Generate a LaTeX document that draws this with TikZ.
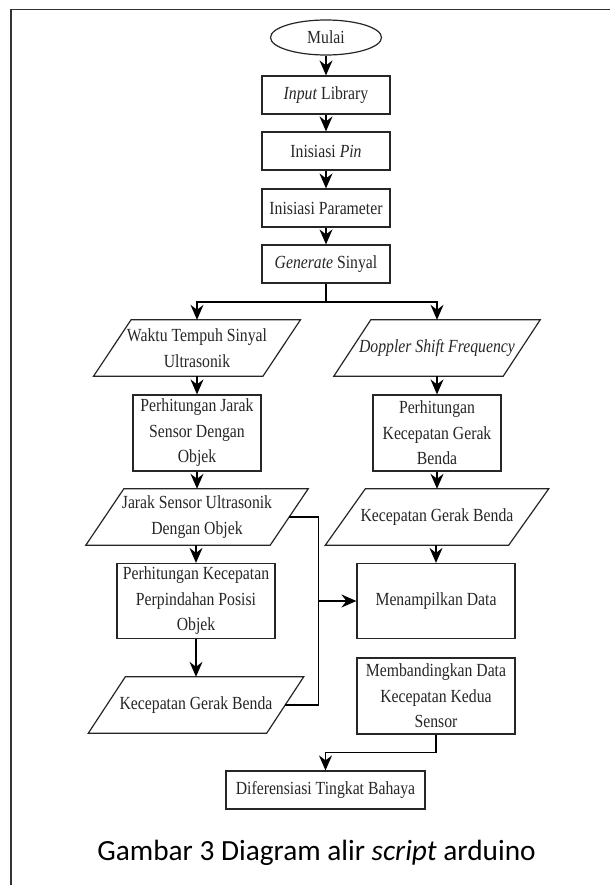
\documentclass[tikz,border=0pt]{standalone}
\usepackage{fontspec}
\setmainfont{Liberation Serif}[FakeStretch=0.85]
\newfontfamily\capfont{Carlito}
\usetikzlibrary{arrows.meta,shapes.geometric,calc}
\newcommand\drawpara[2]{\draw[shapeline] ([xshift=#2]#1.north west) -- ([xshift=#2]#1.north east) -- ([xshift=-#2]#1.south east) -- ([xshift=-#2]#1.south west) -- cycle;}
\tikzset{
  shapeline/.style={line width=1.2pt, draw=black!85},
  diag/.style={font=\fontsize{18.5}{25.5}\selectfont, text=black!85, align=center, inner sep=0pt},
  box/.style={diag, rectangle, shapeline, minimum width=128pt, minimum height=38pt},
  para/.style={diag, rectangle, minimum height=56pt},
  term/.style={diag, ellipse, shapeline, minimum width=111pt, minimum height=35pt},
  conn/.style={line width=1.4pt, draw=black},
  arrow/.style={conn, -{Stealth[length=15pt,width=13pt,inset=5pt]}},
}
\begin{document}
\begin{tikzpicture}[x=1pt,y=-1pt]
\useasboundingbox (0,0) rectangle (610,885);
% frame
\draw[line width=1.5pt, black!80] (11,885) -- (11,9.5) -- (610,9.5);

% main column
\node[term] (mulai) at (326,37.5) {Mulai};
\node[box] (inlib) at (326,95) {\textit{Input} Library};
\node[box] (pin) at (326,151) {Inisiasi \textit{Pin}};
\node[box] (param) at (326,208) {Inisiasi Parameter};
\node[box] (gen) at (326,264) {\textit{Generate} Sinyal};
\coordinate (br) at (326,302);

% left column
\node[para, minimum width=169pt] (waktu) at (197,348) {Waktu Tempuh Sinyal\\Ultrasonik};
\drawpara{waktu}{18.75pt}
\node[box, minimum height=76pt] (jarakbox) at (197,433) {Perhitungan Jarak\\Sensor Dengan\\Objek};
\node[para, minimum width=184pt] (jarakpara) at (197,517) {Jarak Sensor Ultrasonik\\Dengan Objek};
\drawpara{jarakpara}{19pt}
\node[box, minimum width=158pt, minimum height=75pt] (pindah) at (196,601) {Perhitungan Kecepatan\\Perpindahan Posisi\\Objek};
\node[para, minimum width=178pt] (kecL) at (196,705) {Kecepatan Gerak Benda};
\drawpara{kecL}{18.5pt}

% right column
\node[para, minimum width=169pt] (dop) at (437,348) {\textit{Doppler Shift Frequency}};
\drawpara{dop}{18.5pt}
\node[box, minimum height=76pt] (kecbox) at (437,433) {Perhitungan\\Kecepatan Gerak\\Benda};
\node[para, minimum width=183pt] (kecR) at (437,517) {Kecepatan Gerak Benda};
\drawpara{kecR}{20pt}
\node[box, minimum width=158pt, minimum height=75pt] (tampil) at (436,601) {Menampilkan Data};
\node[box, minimum width=158pt, minimum height=76pt] (banding) at (436,696) {Membandingkan Data\\Kecepatan Kedua\\Sensor};
\node[box, minimum width=199pt] (dif) at (325.5,790) {Diferensiasi Tingkat Bahaya};

% caption
\node[anchor=base, inner sep=0pt, font=\capfont\fontsize{29.3}{34}\selectfont] (cap) at (316.5,860) {Gambar 3 Diagram alir \textit{script} arduino};

% connectors
\draw[arrow] (mulai) -- (inlib);
\draw[arrow] (inlib) -- (pin);
\draw[arrow] (pin) -- (param);
\draw[arrow] (param) -- (gen);
\draw[conn] (gen.south) -- (br);
\draw[arrow] (br) -| (waktu.north);
\draw[arrow] (br) -| (dop.north);
\draw[arrow] (waktu.south) -- (jarakbox.north);
\draw[arrow] (jarakbox.south) -- (jarakbox.south |- jarakpara.north);
\draw[arrow] (jarakpara.south -| pindah.north) -- (pindah.north);
\draw[arrow] (pindah.south) -- (kecL.north);
\draw[arrow] (dop.south) -- (kecbox.north);
\draw[arrow] (kecbox.south) -- (kecR.north);
\draw[arrow] (kecR.south -| tampil.north) -- (tampil.north);
\path (tampil.west) ++(-38,0) coordinate (bus);
\draw[conn] (jarakpara.east) -| (bus) |- (kecL.east);
\draw[arrow] (bus) -- (tampil.west);
\draw[arrow] (banding.south) -- ++(0,18) -| (dif.north);
\end{tikzpicture}
\end{document}
